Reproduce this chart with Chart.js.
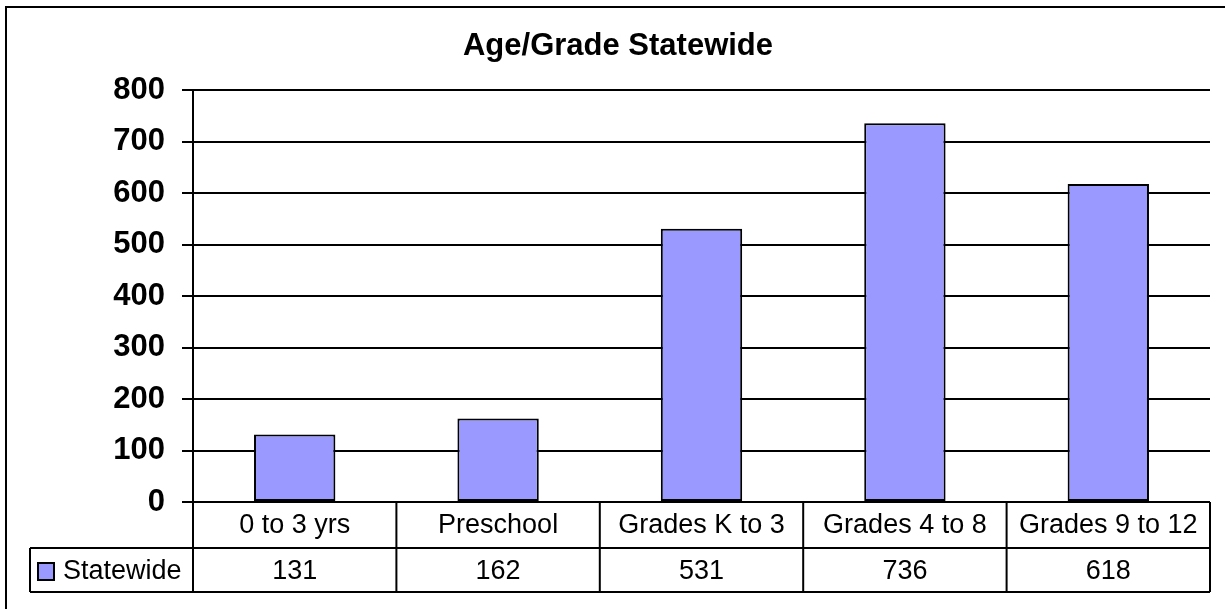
<!DOCTYPE html>
<html>
<head>
<meta charset="utf-8">
<title>Age/Grade Statewide</title>
<script src="https://cdn.jsdelivr.net/npm/chart.js@4"></script>
<style>
  html, body { margin: 0; padding: 0; background: #fff; }
  #wrap { width: 1225px; height: 609px; }
</style>
</head>
<body>
<div id="wrap"><canvas id="ageChart" width="1225" height="609"></canvas></div>
<script>
const categories = ["0 to 3 yrs", "Preschool", "Grades K to 3", "Grades 4 to 8", "Grades 9 to 12"];
const statewide = [131, 162, 531, 736, 618];
const seriesName = "Statewide";
const chartTitle = "Age/Grade Statewide";
const yMin = 0;
const yMax = 800;
const yStep = 100;

const FONT = "'Liberation Sans', Arial, sans-serif";
const BAR_COLOR = "#9999FF";

// draws the outer frame and the data table under the plot
const dataTable = {
    id: "dataTable",
    afterDraw(chart) {
        const ctx = chart.ctx;
        const area = chart.chartArea;
        const x = chart.scales.x;
        const row1Top = area.bottom;
        const row1Bot = row1Top + 46;
        const row2Bot = row1Bot + 44;
        const legendLeft = 30;
        const colW = (area.right - area.left) / categories.length;

        ctx.save();
        ctx.strokeStyle = "#000";
        ctx.lineWidth = 2;

        // outer frame (top and left only visible)
        ctx.beginPath();
        ctx.moveTo(6, chart.height + 2);
        ctx.lineTo(6, 7);
        ctx.lineTo(chart.width + 2, 7);
        ctx.stroke();

        // table lines
        ctx.beginPath();
        ctx.moveTo(legendLeft, row1Bot); ctx.lineTo(area.right, row1Bot);
        ctx.moveTo(legendLeft, row2Bot); ctx.lineTo(area.right, row2Bot);
        ctx.moveTo(legendLeft, row1Bot); ctx.lineTo(legendLeft, row2Bot);
        ctx.moveTo(area.left, row1Top); ctx.lineTo(area.left, row2Bot);
        for (let i = 0; i < categories.length; i++) {
            const edge = x.getPixelForValue(i) + colW / 2;
            ctx.moveTo(edge, row1Top); ctx.lineTo(edge, row2Bot);
        }
        ctx.stroke();

        // text
        ctx.fillStyle = "#000";
        ctx.font = "27px " + FONT;
        ctx.textAlign = "center";
        ctx.textBaseline = "middle";
        categories.forEach((c, i) => {
            const cx = x.getPixelForValue(i);
            ctx.fillText(c, cx, (row1Top + row1Bot) / 2 + 1);
            ctx.fillText(String(statewide[i]), cx, (row1Bot + row2Bot) / 2 + 2);
        });

        // legend key
        const midY = (row1Bot + row2Bot) / 2;
        ctx.fillStyle = BAR_COLOR;
        ctx.fillRect(38, midY - 7, 16, 17);
        ctx.strokeRect(38, midY - 7, 16, 17);
        ctx.fillStyle = "#000";
        ctx.textAlign = "left";
        ctx.fillText(seriesName, 63, midY + 2);
        ctx.restore();
    }
};

const ctx = document.getElementById("ageChart").getContext("2d");
const ageChart = new Chart(ctx, {
    type: "bar",
    data: {
        labels: categories,
        datasets: [{
            label: seriesName,
            data: statewide,
            backgroundColor: BAR_COLOR,
            borderColor: "#000",
            borderWidth: 2,
            borderSkipped: false,
            barPercentage: 0.4,
            categoryPercentage: 1
        }]
    },
    options: {
        responsive: false,
        animation: false,
        events: [],
        layout: { padding: { left: 26, right: 15, top: 0, bottom: 17 } },
        plugins: {
            legend: { display: false },
            tooltip: { enabled: false },
            title: {
                display: true,
                text: chartTitle,
                color: "#000",
                font: { family: FONT, size: 31, weight: "bold" },
                padding: { top: 28, bottom: 25 }
            }
        },
        scales: {
            x: {
                grid: { display: false },
                border: { display: false },
                ticks: { display: false },
                afterFit(scale) { scale.height = 90; }
            },
            y: {
                min: yMin,
                max: yMax,
                ticks: {
                    stepSize: yStep,
                    color: "#000",
                    padding: 17,
                    font: { family: FONT, size: 31, weight: "bold" }
                },
                grid: {
                    color: "#000",
                    lineWidth: 2,
                    tickLength: 11,
                    tickColor: "#000"
                },
                border: { color: "#000", width: 2 },
                afterFit(scale) { scale.width = 167; }
            }
        }
    },
    plugins: [dataTable]
});
</script>
</body>
</html>
